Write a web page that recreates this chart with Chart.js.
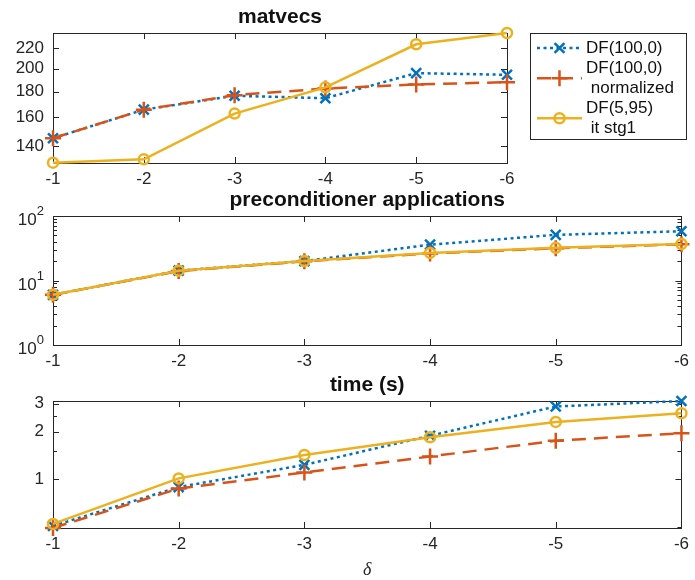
<!DOCTYPE html>
<html>
<head>
<meta charset="utf-8">
<script src="https://cdn.jsdelivr.net/npm/chart.js@4"></script>
<style>
  body { margin: 0; background: #fff; width: 695px; height: 580px; position: relative; overflow: hidden; }
  canvas { position: absolute; left: 0; }
</style>
</head>
<body>
<canvas id="cMat" width="695" height="185" style="top:0"></canvas>
<canvas id="cPre" width="695" height="185" style="top:185px"></canvas>
<canvas id="cTime" width="695" height="210" style="top:370px"></canvas>
<script>
const deltas = ['-1', '-2', '-3', '-4', '-5', '-6'];
const names = ['DF(100,0)', 'DF(100,0)\n normalized', 'DF(5,95)\n it stg1'];

// matvecs
const matDF   = [145, 165.5, 176.5, 174.5, 196, 194.5];
const matNorm = [145, 165.5, 177, 182.5, 186, 188];
const matStg  = [129.5, 131.5, 162.5, 183.5, 224, 236];

// preconditioner applications
const preDF   = [6.0, 14.2, 20, 36, 51, 58];
const preNorm = [6.0, 14.0, 19.8, 26.3, 31.6, 36.4];
const preStg  = [6.0, 14.2, 20, 26.8, 32.1, 36.8];

// time (s)
const timeDF   = [0.505, 0.89, 1.23, 1.88, 2.88, 3.12];
const timeNorm = [0.49, 0.87, 1.10, 1.39, 1.75, 1.95];
const timeStg  = [0.52, 1.01, 1.42, 1.84, 2.30, 2.61];

const matTicks = [140, 160, 180, 200, 220];
const preTicks = [1, 10, 100];
const preMinor = [2, 3, 4, 5, 6, 7, 8, 9, 20, 30, 40, 50, 60, 70, 80, 90];
const timeTicks = [1, 2, 3];
const timeMinor = [0.5, 1.5, 2.5];

const INK = '#262626';
const FONT = '"Liberation Sans", Arial, sans-serif';
const STYLES = [
    { c: '#0072BD', dash: [3, 3.5], pt: 'crossRot', r: 7, order: 3 },
    { c: '#D95319', dash: [14, 8], pt: 'cross', r: 8, order: 2 },
    { c: '#EDB120', dash: [], pt: 'circle', r: 5, order: 1 }
];

function series(data, i) {
    const s = STYLES[i];
    return {
        label: names[i], data, borderColor: s.c, borderWidth: 2.5, borderDash: s.dash,
        pointStyle: s.pt, pointRadius: s.r, pointBorderWidth: 2.5, pointBorderColor: s.c,
        pointBackgroundColor: 'rgba(0,0,0,0)', tension: 0, clip: false, order: s.order
    };
}

// little marker for the legend samples
function marker(ctx, pt, x, y, r) {
    ctx.beginPath();
    if (pt === 'circle') ctx.arc(x, y, r, 0, Math.PI * 2);
    else if (pt === 'cross') { ctx.moveTo(x - r, y); ctx.lineTo(x + r, y); ctx.moveTo(x, y - r); ctx.lineTo(x, y + r); }
    else { const d = r * 0.707; ctx.moveTo(x - d, y - d); ctx.lineTo(x + d, y + d); ctx.moveTo(x - d, y + d); ctx.lineTo(x + d, y - d); }
    ctx.stroke();
}

const frame = {
    id: 'frame',
    beforeDatasetsDraw(chart, args, o) {
        const { ctx, chartArea: a, scales: { x, y } } = chart;
        ctx.save();
        ctx.strokeStyle = INK;
        ctx.lineWidth = 1;
        ctx.strokeRect(Math.round(a.left) + .5, Math.round(a.top) + .5, Math.round(a.right - a.left), Math.round(a.bottom - a.top));
        ctx.beginPath();
        x.ticks.forEach((t, i) => {
            const px = Math.round(x.getPixelForTick(i)) + .5;
            ctx.moveTo(px, a.bottom); ctx.lineTo(px, a.bottom - 6);
            ctx.moveTo(px, a.top); ctx.lineTo(px, a.top + 6);
        });
        const tick = (v, len) => {
            const py = Math.round(y.getPixelForValue(v)) + .5;
            ctx.moveTo(a.left, py); ctx.lineTo(a.left + len, py);
            ctx.moveTo(a.right, py); ctx.lineTo(a.right - len, py);
        };
        o.major.forEach(v => tick(v, 6));
        (o.minor || []).forEach(v => tick(v, 4));
        ctx.stroke();

        ctx.fillStyle = '#111';
        ctx.font = 'bold 21px ' + FONT;
        ctx.textAlign = 'center';
        ctx.textBaseline = 'alphabetic';
        ctx.fillText(o.title, (a.left + a.right) / 2, a.top - 10);

        if (o.pow) {
            ctx.fillStyle = INK;
            ctx.textAlign = 'right';
            o.major.forEach(v => {
                const py = y.getPixelForValue(v);
                const exp = String(Math.round(Math.log10(v)));
                ctx.font = '13px ' + FONT;
                ctx.fillText(exp, a.left - 9, py - 1);
                const w = ctx.measureText(exp).width;
                ctx.font = '17px ' + FONT;
                ctx.fillText('10', a.left - 9 - w, py + 9);
            });
        }
        if (o.xTitle) {
            ctx.fillStyle = INK;
            ctx.font = 'italic 18px "Liberation Serif", serif';
            ctx.textAlign = 'center';
            ctx.fillText(o.xTitle, (a.left + a.right) / 2, a.bottom + 47);
        }
        if (o.legend) {
            const L = o.legend;
            ctx.fillStyle = '#fff';
            ctx.fillRect(L.x, L.y, L.w, L.h);
            ctx.strokeStyle = INK;
            ctx.strokeRect(L.x + .5, L.y + .5, L.w, L.h);
            let ty = L.y + 15;
            chart.data.datasets.forEach((ds, i) => {
                const lines = ds.label.split('\n');
                const cy = ty + (lines.length - 1) * 19.5 / 2;
                ctx.strokeStyle = ds.borderColor;
                ctx.lineWidth = 2.5;
                ctx.setLineDash(ds.borderDash);
                ctx.beginPath();
                ctx.moveTo(L.x + 7, cy); ctx.lineTo(L.x + 52, cy);
                ctx.stroke();
                ctx.setLineDash([]);
                marker(ctx, ds.pointStyle, L.x + 29.5, cy, ds.pointRadius);
                ctx.fillStyle = '#111';
                ctx.font = '17px ' + FONT;
                ctx.textAlign = 'left';
                ctx.textBaseline = 'middle';
                lines.forEach((t, k) => ctx.fillText(t, L.x + 56, ty + k * 19.5));
                ty += lines.length * 19.5 + 1;
            });
        }
        ctx.restore();
    }
};

function makeChart(id, cfg) {
    return new Chart(document.getElementById(id), {
        type: 'line',
        data: { labels: deltas, datasets: cfg.sets.map(series) },
        options: {
            responsive: false, animation: false,
            layout: { padding: cfg.pad },
            plugins: { legend: { display: false }, tooltip: { enabled: false }, frame: cfg.frame },
            scales: {
                x: {
                    type: 'category',
                    grid: { display: false, drawTicks: false }, border: { display: false },
                    ticks: { color: INK, font: { size: 17, family: FONT }, padding: 6, maxRotation: 0, autoSkip: false },
                    afterFit: s => { s.height = 22; }
                },
                y: {
                    type: 'logarithmic', min: cfg.min, max: cfg.max,
                    grid: { display: false, drawTicks: false }, border: { display: false },
                    ticks: { color: INK, font: { size: 17, family: FONT }, padding: 9, autoSkip: false,
                             callback: v => cfg.frame.pow ? '' : String(v) },
                    afterBuildTicks: s => { s.ticks = cfg.frame.major.map(v => ({ value: v })); },
                    afterFit: s => { s.width = 53; }
                }
            }
        },
        plugins: [frame]
    });
}

makeChart('cMat', {
    sets: [matDF, matNorm, matStg], min: 129.3, max: 236,
    pad: { left: 0, top: 33, right: 188, bottom: 185 - 163 - 22 },
    frame: { title: 'matvecs', major: matTicks, legend: { x: 530, y: 33, w: 156, h: 106 } }
});
makeChart('cPre', {
    sets: [preDF, preNorm, preStg], min: 1, max: 100,
    pad: { left: 0, top: 31, right: 11, bottom: 185 - 160 - 22 },
    frame: { title: 'preconditioner applications', major: preTicks, minor: preMinor, pow: true }
});
makeChart('cTime', {
    sets: [timeDF, timeNorm, timeStg], min: 0.49, max: 3.12,
    pad: { left: 0, top: 31, right: 11, bottom: 210 - 158 - 22 },
    frame: { title: 'time (s)', major: timeTicks, minor: timeMinor, xTitle: 'δ' }
});
</script>
</body>
</html>
